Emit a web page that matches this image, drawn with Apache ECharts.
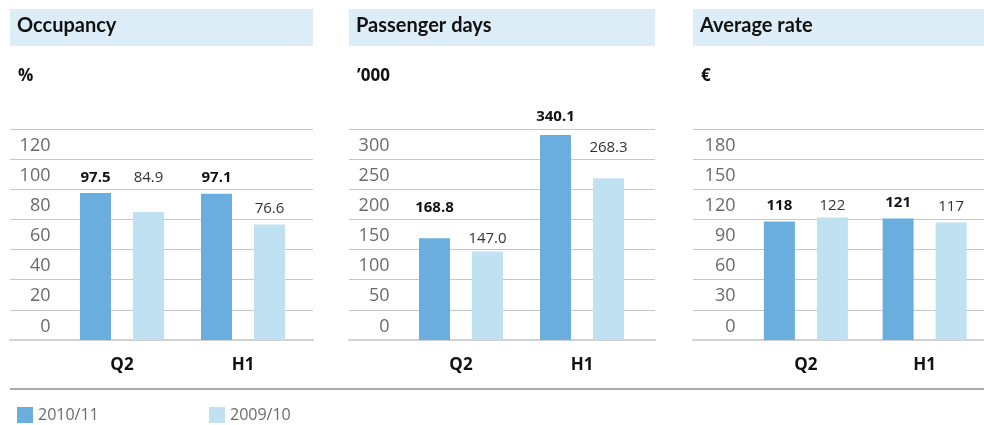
<!DOCTYPE html>
<html>
<head>
<meta charset="utf-8">
<script src="https://cdn.jsdelivr.net/npm/echarts@6/dist/echarts.min.js"></script>
<style>
  html, body { margin: 0; padding: 0; background: #fff; }
  #chart { width: 984px; height: 425px; }
</style>
</head>
<body>
<div id="chart"></div>
<script>
const categories = ["Q2", "H1"];
const seriesNames = ["2010/11", "2009/10"];

const occupancy2010 = [97.5, 97.1];
const occupancy2009 = [84.9, 76.6];
const occupancyTicks = ["0", "20", "40", "60", "80", "100", "120"];

const passengers2010 = [168.8, 340.1];
const passengers2009 = [147.0, 268.3];
const passengerTicks = ["0", "50", "100", "150", "200", "250", "300"];

const rate2010 = [118, 121];
const rate2009 = [122, 117];
const rateTicks = ["0", "30", "60", "90", "120", "150", "180"];

const darkBlue = "#6aaee0";
const lightBlue = "#c0e1f2";
const gridGray = "#c3c7cb";

// panel layout, label nudges are just how the original was set
const panels = [
  { title: "Occupancy", unit: "%", x: 10, w: 303, barLeft: 61.5, step: 20, ticks: occupancyTicks,
    a: occupancy2010, b: occupancy2009, dec: 1, liftA: [0, 0], liftB: [19, 0] },
  { title: "Passenger days", unit: "\u2019000", x: 349, w: 306, barLeft: 400.5, step: 50, ticks: passengerTicks,
    a: passengers2010, b: passengers2009, dec: 1, liftA: [15, 3], liftB: [-3, 15] },
  { title: "Average rate", unit: "\u20ac", x: 693, w: 291, barLeft: 746.5, step: 30, ticks: rateTicks,
    a: rate2010, b: rate2009, dec: 0, liftA: [0, 0], liftB: [-4, 0] }
];

const numFont = "Open Sans";
const gridTop = 129;
const gridBottom = 425 - 340;

let grids = [];
let xAxes = [];
let yAxes = [];
let series = [];
let graphics = [];

panels.forEach((p, i) => {
  // one empty band above the top label
  const max = p.step * p.ticks.length;
  // full width grid, only used for the horizontal rules
  grids.push({ left: p.x, width: p.w, top: gridTop, bottom: gridBottom });
  // narrower grid that holds the bars
  grids.push({ left: p.barLeft, width: 242, top: gridTop, bottom: gridBottom });

  xAxes.push({
    gridIndex: i * 2, type: "category", data: categories,
    axisLine: { show: true, lineStyle: { color: "#cfd2d5", width: 2 } },
    axisTick: { show: false }, axisLabel: { show: false }
  });
  xAxes.push({
    gridIndex: i * 2 + 1, type: "category", data: categories,
    axisLine: { show: false }, axisTick: { show: false },
    axisLabel: { margin: 17, fontSize: 17, fontWeight: "bold", color: "#111", fontFamily: numFont }
  });

  yAxes.push({
    gridIndex: i * 2, type: "value", min: 0, max: max, interval: p.step,
    axisLabel: { show: false }, axisLine: { show: false }, axisTick: { show: false },
    splitLine: { lineStyle: { color: gridGray, width: 1 } }
  });
  // tick labels sit in the middle of the band above each rule
  yAxes.push({
    gridIndex: i * 2 + 1, type: "value", min: 0, max: max, interval: p.step,
    axisLine: { show: false }, axisTick: { show: false }, splitLine: { show: false },
    axisLabel: {
      margin: 11, fontSize: 18, color: "#6b6b6b", fontFamily: numFont,
      verticalAlign: "bottom", lineHeight: 27,
      showMinLabel: true, showMaxLabel: true, hideOverlap: false,
      formatter: (v) => {
        const k = Math.round(v / p.step);
        return k < p.ticks.length ? p.ticks[k] : "";
      }
    }
  });

  const makeData = (vals, lifts) => vals.map((v, j) => ({
    value: v,
    label: { offset: [0, -lifts[j]] }
  }));

  series.push({
    name: seriesNames[0], type: "bar", xAxisIndex: i * 2 + 1, yAxisIndex: i * 2 + 1,
    data: makeData(p.a, p.liftA), barWidth: 31, barGap: "71%",
    itemStyle: { color: darkBlue },
    label: {
      show: true, position: "top", distance: 8, fontSize: 15, fontWeight: "bold",
      color: "#111", fontFamily: numFont,
      formatter: (d) => d.value.toFixed(p.dec)
    }
  });
  series.push({
    name: seriesNames[1], type: "bar", xAxisIndex: i * 2 + 1, yAxisIndex: i * 2 + 1,
    data: makeData(p.b, p.liftB), barWidth: 31, barGap: "71%",
    itemStyle: { color: lightBlue },
    label: {
      show: true, position: "top", distance: 8, fontSize: 15,
      color: "#333", fontFamily: numFont,
      formatter: (d) => d.value.toFixed(p.dec)
    }
  });

  graphics.push({
    type: "rect", left: p.x, top: 9, shape: { width: p.w, height: 37 },
    style: { fill: "#dcedf8" }, z: -1
  });
  graphics.push({
    type: "text", left: p.x + 7, top: 16,
    style: { text: p.title, font: "bold 20px Lato", fill: "#111" }
  });
  graphics.push({
    type: "text", left: p.x + 8, top: 68,
    style: { text: p.unit, font: "bold 17px 'Open Sans'", fill: "#111" }
  });
});

// rule above legend
graphics.push({
  type: "line", shape: { x1: 10, y1: 389, x2: 984, y2: 389 },
  style: { stroke: "#a9a9a9", lineWidth: 2 }
});

// one legend per entry so the second one can sit where the original had it
const legendLefts = [17, 209];
const legends = seriesNames.map((name, k) => ({
  data: [name], left: legendLefts[k], top: 407, icon: "rect", padding: 0,
  itemWidth: 16, itemHeight: 16,
  textStyle: { fontSize: 16, color: "#6b6b6b", fontFamily: numFont }
}));

const chart = echarts.init(document.getElementById("chart"));
chart.setOption({
  animation: false,
  grid: grids,
  xAxis: xAxes,
  yAxis: yAxes,
  series: series,
  graphic: graphics,
  legend: legends
});
</script>
</body>
</html>
